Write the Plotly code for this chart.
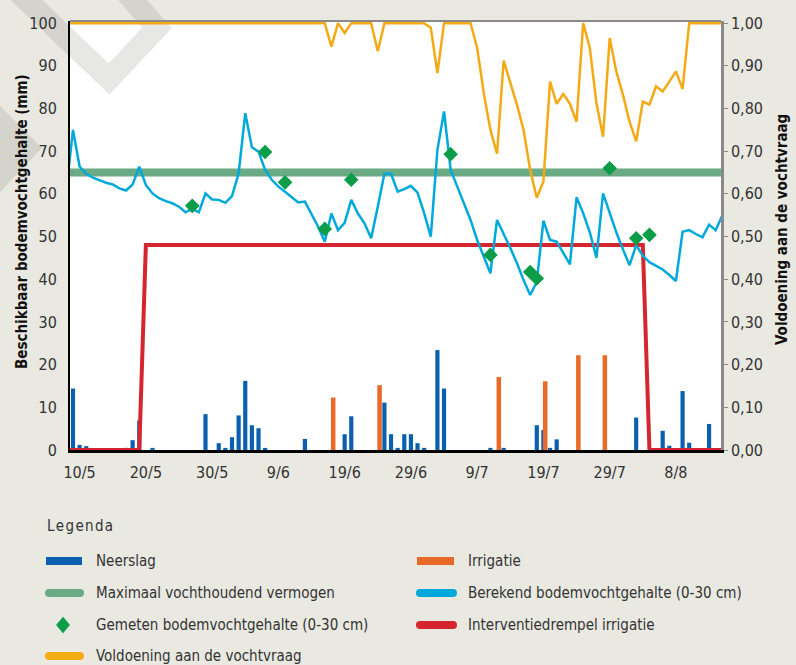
import plotly.graph_objects as go

# ---------------- data ----------------
# day index 0 = 10/5
tick_days = [0, 10, 20, 30, 40, 50, 60, 70, 80, 90]
tick_labels = ["10/5", "20/5", "30/5", "9/6", "19/6", "29/6", "9/7", "19/7", "29/7", "8/8"]

rain_days = [-1, 0, 1, 7, 8, 9, 11, 19, 21, 22, 23, 24, 25, 26, 27, 28, 34, 40, 41,
             46, 47, 48, 49, 50, 51, 52, 54, 55, 62, 64, 69, 70, 71, 72, 84, 88, 89,
             91, 92, 95]
rain_mm = [14.4, 1.2, 0.9, 0.5, 2.3, 6.9, 0.5, 8.4, 1.6, 0.5, 3.0, 8.1, 16.2, 5.8, 5.1,
           0.5, 2.6, 3.7, 7.9, 11.1, 3.7, 0.5, 3.7, 3.7, 1.6, 0.5, 23.4, 14.4, 0.5, 0.5,
           5.8, 4.7, 0.5, 2.5, 7.6, 4.5, 1.0, 13.8, 1.7, 6.1]

irr_days = [38, 45, 63, 70, 75, 79]
irr_mm = [12.3, 15.2, 17.1, 16.1, 22.2, 22.2]

line_days = list(range(-2, 98))
soil_calc = [61.0, 75.0, 66.4, 64.7, 63.8, 63.2, 62.6, 62.2, 61.3, 60.8,
             62.2, 66.4, 62.1, 60.1, 59.0, 58.3, 57.8, 57.0, 55.7, 56.5,
             55.7, 60.1, 58.7, 58.6, 57.9, 59.5, 64.8, 78.9, 70.9, 69.9,
             65.6, 63.3, 61.7, 60.5, 59.2, 58.0, 58.2, 55.4, 52.3, 48.8,
             55.4, 51.5, 53.2, 58.6, 55.4, 53.1, 49.6, 57.0, 64.7, 64.7,
             60.5, 61.1, 61.9, 60.3, 55.5, 50.0, 70.3, 79.3, 65.6, 61.7,
             57.8, 53.9, 49.2, 45.3, 41.4, 53.9, 50.7, 47.3, 43.8, 39.8,
             36.3, 39.4, 53.7, 49.2, 48.8, 46.0, 43.5, 59.2, 55.5, 51.0,
             45.0, 60.1, 55.5, 51.0, 47.0, 43.3, 48.0, 45.5, 44.0, 43.2,
             42.3, 41.0, 39.6, 51.1, 51.5, 50.6, 49.8, 52.8, 51.5, 55.0]

demand = [1, 1, 1, 1, 1, 1, 1, 1, 1, 1,
          1, 1, 1, 1, 1, 1, 1, 1, 1, 1,
          1, 1, 1, 1, 1, 1, 1, 1, 1, 1,
          1, 1, 1, 1, 1, 1, 1, 1, 1, 1,
          0.945, 1, 0.977, 1, 1, 1, 1, 0.934, 1, 1,
          1, 1, 1, 1, 1, 0.989, 0.883, 1, 1, 1,
          1, 1, 0.942, 0.836, 0.75, 0.694, 0.912, 0.863, 0.809, 0.75,
          0.656, 0.591, 0.629, 0.863, 0.811, 0.834, 0.811, 0.769, 1.0, 0.942,
          0.813, 0.734, 0.965, 0.887, 0.832, 0.769, 0.723, 0.816, 0.809, 0.852,
          0.840, 0.863, 0.887, 0.846, 1, 1, 1, 1, 1, 1]

meas_days = [17, 28, 31, 37, 41, 56, 62, 68, 69, 80, 84, 86]
soil_meas = [57.2, 69.8, 62.7, 51.8, 63.3, 69.3, 45.7, 41.7, 40.2, 66.0, 49.6, 50.4]

threshold_days = [-2, 9, 10, 85, 86, 97]
threshold = [0, 0, 48, 48, 0, 0]

capacity_days = [-2, 97]
capacity = [65, 65]

legend_col1 = ["Neerslag", "Maximaal vochthoudend vermogen",
               "Gemeten bodemvochtgehalte (0-30 cm)", "Voldoening aan de vochtvraag"]
legend_col2 = ["Irrigatie", "Berekend bodemvochtgehalte (0-30 cm)",
               "Interventiedrempel irrigatie"]

# ---------------- style ----------------
FONT = "DejaVu Sans Condensed, Liberation Sans Narrow, Arial Narrow, sans-serif"
C_RAIN = "#0a5fae"
C_IRR = "#e96a28"
C_CAP = "#6aaa84"
C_CALC = "#00a9dc"
C_MEAS = "#0c9d48"
C_THR = "#d5262f"
C_DEM = "#f4aa14"
BG = "#e9e8e1"
TXT = "#333333"

W, H = 796, 665
ML, MR, MT, MB = 70, 75, 21, 215
PX0, PX1 = ML, W - MR
PY0, PY1 = MT, H - MB


def px(x):
    return (x - PX0) / (PX1 - PX0)


def py(y):
    return (PY1 - y) / (PY1 - PY0)


fig = go.Figure()

fig.add_bar(x=rain_days, y=rain_mm, width=0.63, marker=dict(color=C_RAIN, line_width=0),
            showlegend=False)
fig.add_bar(x=irr_days, y=irr_mm, width=0.68, offset=-0.34 + 0.27,
            marker=dict(color=C_IRR, line_width=0), showlegend=False)
fig.add_scatter(x=capacity_days, y=capacity, mode="lines",
                line=dict(color=C_CAP, width=8), showlegend=False)
fig.add_scatter(x=threshold_days, y=threshold, mode="lines",
                line=dict(color=C_THR, width=4), showlegend=False)
fig.add_scatter(x=line_days, y=soil_calc, mode="lines",
                line=dict(color=C_CALC, width=2.5), showlegend=False)
fig.add_scatter(x=meas_days, y=soil_meas, mode="markers",
                marker=dict(symbol="diamond", size=8, color=C_MEAS,
                            line=dict(color=C_MEAS, width=3)), showlegend=False)
fig.add_scatter(x=line_days, y=demand, mode="lines", yaxis="y2",
                line=dict(color=C_DEM, width=2.5), showlegend=False)

shapes = []
annotations = []

# watermark
wm = "rgba(120,120,112,0.18)"
shapes.append(dict(type="path", xref="paper", yref="paper", layer="below",
                   path=f"M {px(18)},{py(-8)} L {px(109)},{py(79)} L {px(157)},{py(28)} L {px(126)},{py(-8)}",
                   line=dict(color=wm, width=22)))
shapes.append(dict(type="path", xref="paper", yref="paper", layer="below",
                   path=f"M {px(0)},{py(106)} L {px(42)},{py(148)} L {px(0)},{py(192)} Z",
                   fillcolor=wm, line=dict(width=0)))

# top border
shapes.append(dict(type="line", xref="paper", yref="paper", x0=0, x1=1, y0=1, y1=1,
                   line=dict(color="#8a8a8a", width=2), layer="below"))

# axis titles
annotations.append(dict(xref="paper", yref="paper", x=px(22), y=py(222), showarrow=False,
                        xanchor="center", yanchor="middle",
                        text="<b>Beschikbaar bodemvochtgehalte (mm)</b>", textangle=-90,
                        font=dict(family=FONT, size=15, color="#111")))
annotations.append(dict(xref="paper", yref="paper", x=px(782), y=py(230), showarrow=False,
                        xanchor="center", yanchor="middle",
                        text="<b>Voldoening aan de vochtvraag</b>", textangle=-90,
                        font=dict(family=FONT, size=15, color="#111")))

# legend
annotations.append(dict(xref="paper", yref="paper", x=px(45), y=py(526), xanchor="left",
                        yanchor="middle", showarrow=False,
                        text="L\u200ae\u200ag\u200ae\u200an\u200ad\u200aa",
                        font=dict(family=FONT, size=15, color=TXT)))


def pill(x0, x1, yc, color, h=8):
    r = h / 2
    shapes.append(dict(type="line", xref="paper", yref="paper",
                       x0=px(x0 + r), x1=px(x1 - r), y0=py(yc), y1=py(yc),
                       line=dict(color=color, width=h)))
    for cx in (x0 + r, x1 - r):
        shapes.append(dict(type="circle", xref="paper", yref="paper",
                           x0=px(cx - r), x1=px(cx + r), y0=py(yc + r), y1=py(yc - r),
                           fillcolor=color, line=dict(width=0)))


def rect(x0, x1, yc, color, h=8):
    shapes.append(dict(type="rect", xref="paper", yref="paper",
                       x0=px(x0), x1=px(x1), y0=py(yc + h / 2), y1=py(yc - h / 2),
                       fillcolor=color, line=dict(width=0)))


rows = [561, 593, 625, 656]
rect(46, 82, rows[0], C_RAIN)
pill(45, 84, rows[1], C_CAP)
shapes.append(dict(type="path", xref="paper", yref="paper",
                   path=f"M {px(63)},{py(rows[2]-6)} L {px(68)},{py(rows[2])} L {px(63)},{py(rows[2]+6)} L {px(58)},{py(rows[2])} Z",
                   fillcolor=C_MEAS, line=dict(color=C_MEAS, width=3)))
pill(45, 84, rows[3], C_DEM)
rect(417, 454, rows[0], C_IRR)
pill(416, 457, rows[1], C_CALC)
pill(416, 457, rows[2], C_THR)

for i, t in enumerate(legend_col1):
    annotations.append(dict(xref="paper", yref="paper", x=px(94), y=py(rows[i]),
                            xanchor="left", yanchor="middle", showarrow=False, text=t,
                            font=dict(family=FONT, size=15, color=TXT)))
for i, t in enumerate(legend_col2):
    annotations.append(dict(xref="paper", yref="paper", x=px(466), y=py(rows[i]),
                            xanchor="left", yanchor="middle", showarrow=False, text=t,
                            font=dict(family=FONT, size=15, color=TXT)))

fig.update_layout(
    width=W, height=H,
    margin=dict(l=ML, r=MR, t=MT, b=MB, autoexpand=False),
    paper_bgcolor=BG, plot_bgcolor="white",
    barmode="overlay",
    separators=", ",
    font=dict(family=FONT, size=15, color=TXT),
    showlegend=False,
    xaxis=dict(range=[-1.45, 96.8], tickmode="array", tickvals=tick_days, ticktext=tick_labels,
               showline=True, linecolor="black", linewidth=2.5, ticks="", showgrid=False,
               zeroline=False, tickfont=dict(size=16, color=TXT), ticklabelstandoff=6),
    yaxis=dict(range=[0, 100.5], tickmode="array", tickvals=[0, 10, 20, 30, 40, 50, 60, 70, 80, 90, 100],
               showline=True, linecolor="black", linewidth=2, ticks="", showgrid=False,
               zeroline=False, tickfont=dict(size=16, color=TXT), ticklabelstandoff=8),
    yaxis2=dict(range=[0, 1.005], overlaying="y", side="right", tickmode="array",
                tickvals=[0, 0.1, 0.2, 0.3, 0.4, 0.5, 0.6, 0.7, 0.8, 0.9, 1.0], tickformat=".2f",
                showline=True, linecolor="#8a8a8a", linewidth=2.5, ticks="outside", ticklen=4,
                tickcolor="#8a8a8a", showgrid=False, zeroline=False,
                tickfont=dict(size=16, color=TXT)),
    shapes=shapes,
    annotations=annotations,
)

fig.write_html("out.html", config={"displayModeBar": False},
               post_script="document.body.style.margin='0';document.body.style.background='#e9e8e1';")
